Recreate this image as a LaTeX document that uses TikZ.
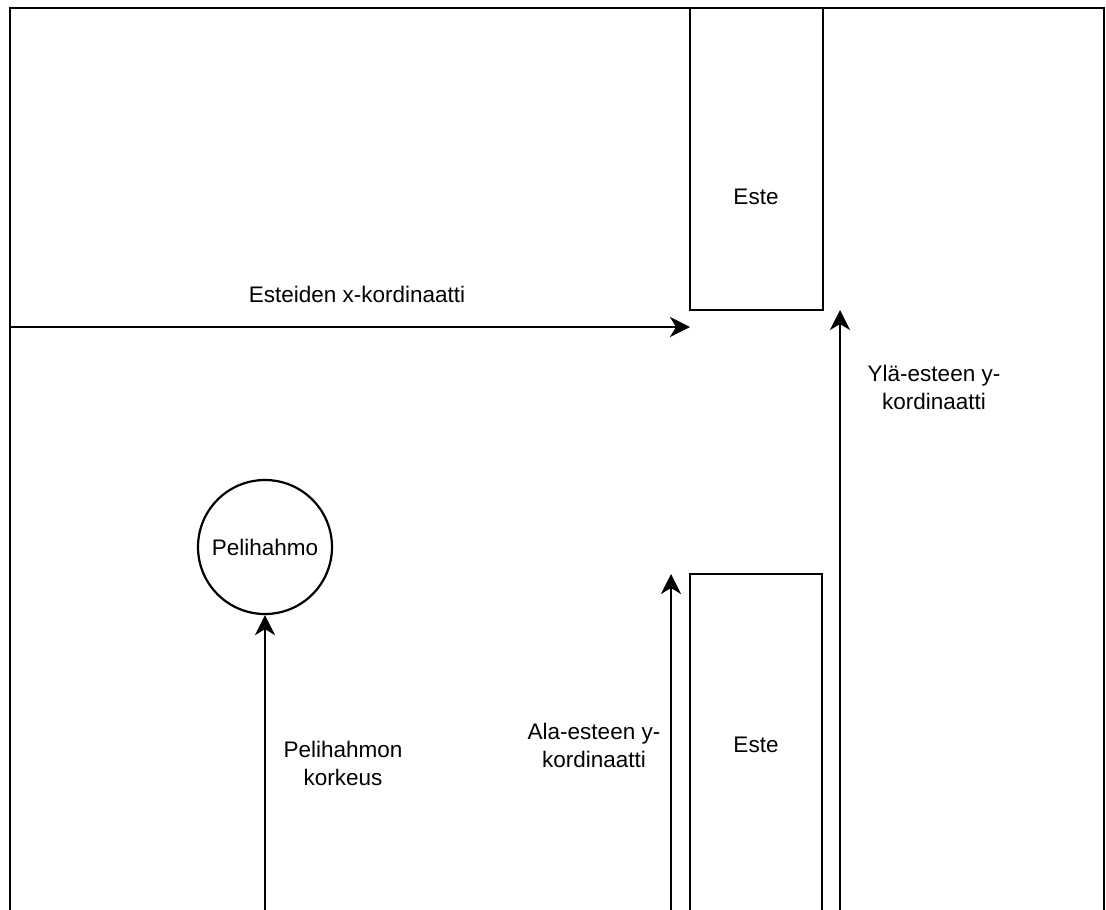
\documentclass[tikz,border=0pt]{standalone}
\usepackage{fontspec}
\setmainfont{Liberation Sans}
\usetikzlibrary{arrows.meta}
\begin{document}
\begin{tikzpicture}[x=1pt,y=-1pt,
  line/.style={line width=2.2pt,black},
  arr/.style={line width=2.2pt,-{Stealth[length=20pt,width=20pt,inset=6pt]}},
  lbl/.style={font=\fontsize{22.5}{28}\selectfont,align=center,inner sep=0pt}]
\useasboundingbox (0,0) rectangle (1106,910);
% frame
\draw[line] (10,910) -- (10,8) -- (1104,8) -- (1104,910);
% obstacles
\draw[line] (690,8) -- (690,310) -- (823,310) -- (823,8);
\node[lbl] (topeste) at (756,197) {Este};
\draw[line] (690,910) -- (690,574) -- (822,574) -- (822,910);
\node[lbl] (boteste) at (756,745) {Este};
% player
\node[draw,circle,line width=2.2pt,minimum size=134pt,inner sep=0pt,font=\fontsize{22.5}{28}\selectfont] (p) at (265,547) {Pelihahmo};
% coordinates
\coordinate (xs) at (10,327);
\coordinate (xe) at (690,327);
\coordinate (ys) at (840,910);
\coordinate (ye) at (840,310);
\coordinate (as) at (671,910);
\coordinate (ae) at (671,574);
\coordinate (ps) at (265,910);
\draw[arr] (xs) -- (xe);
\draw[arr] (ys) -- (ye);
\draw[arr] (as) -- (ae);
\draw[arr] (ps) -- (p.south);
% labels
\node[lbl] (xl) at (357,294) {Esteiden x-kordinaatti};
\node[lbl] (yl) at (934,387) {Ylä-esteen y-\\kordinaatti};
\node[lbl] (al) at (594,745) {Ala-esteen y-\\kordinaatti};
\node[lbl] (pl) at (343,763) {Pelihahmon\\korkeus};
\end{tikzpicture}
\end{document}
